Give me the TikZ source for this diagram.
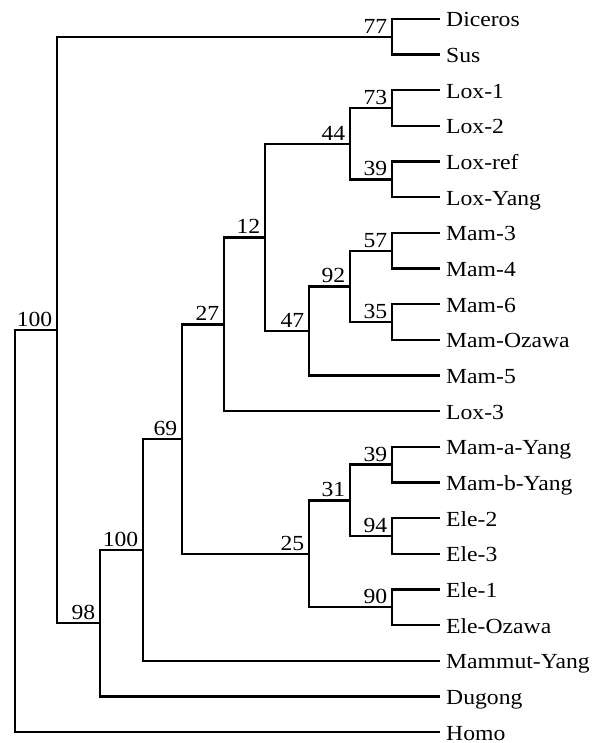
\documentclass[tikz,border=0pt]{standalone}
\usepackage{fontspec}
\setmainfont{Liberation Serif}[FakeStretch=1.1]
\begin{document}
\begin{tikzpicture}[x=1pt,y=-1pt,
  br/.style={line width=2.4pt, line join=miter, line cap=rect},
  leaf/.style={anchor=base west, inner sep=0pt, font=\fontsize{21.5}{21.5}\selectfont},
  sup/.style={anchor=base east, inner sep=0pt, font=\fontsize{21.5}{21.5}\selectfont}]
\useasboundingbox (0,0) rectangle (604,743);
% leaf tips
\def\tipx{439}
\def\lx{446}
\foreach \nm/\i/\txt in {dic/0/Diceros, sus/1/Sus, loxa/2/Lox-1, loxb/3/Lox-2, loxr/4/Lox-ref, loxy/5/Lox-Yang,
  mamc/6/Mam-3, mamd/7/Mam-4, mamf/8/Mam-6, mamo/9/Mam-Ozawa, mame/10/Mam-5, loxc/11/Lox-3,
  mamay/12/Mam-a-Yang, mamby/13/Mam-b-Yang, eleb/14/Ele-2, elec/15/Ele-3, elea/16/Ele-1, eleo/17/Ele-Ozawa,
  mmt/18/Mammut-Yang, dug/19/Dugong, hom/20/Homo}{
  \coordinate (t\nm) at (\tipx, {19+35.65*\i});
  \node[leaf] (l\nm) at (\lx, {19+35.65*\i+8}) {\txt};
}
% internal nodes
\coordinate (n77)  at (392, 36.8);
\coordinate (n73)  at (392, 108.1);
\coordinate (n39a) at (392, 179.4);
\coordinate (n44)  at (350, 143.8);
\coordinate (n57)  at (392, 250.7);
\coordinate (n35)  at (392, 322.0);
\coordinate (n92)  at (350, 286.4);
\coordinate (n47)  at (309, 330.9);
\coordinate (n12)  at (265, 237.4);
\coordinate (n27)  at (224, 324.3);
\coordinate (n39b) at (392, 464.6);
\coordinate (n94)  at (392, 535.9);
\coordinate (n31)  at (350, 500.3);
\coordinate (n90)  at (392, 607.2);
\coordinate (n25)  at (309, 553.7);
\coordinate (n69)  at (182, 439.0);
\coordinate (n100b) at (143, 549.9);
\coordinate (n98)  at (100, 623.1);
\coordinate (n100a) at (57, 330.0);
\coordinate (root) at (15, 531.0);
% branches
\draw[br] (n77) |- (tdic);   \draw[br] (n77) |- (tsus);
\draw[br] (n73) |- (tloxa);  \draw[br] (n73) |- (tloxb);
\draw[br] (n39a) |- (tloxr); \draw[br] (n39a) |- (tloxy);
\draw[br] (n44) |- (n73);    \draw[br] (n44) |- (n39a);
\draw[br] (n57) |- (tmamc);  \draw[br] (n57) |- (tmamd);
\draw[br] (n35) |- (tmamf);  \draw[br] (n35) |- (tmamo);
\draw[br] (n92) |- (n57);    \draw[br] (n92) |- (n35);
\draw[br] (n47) |- (n92);    \draw[br] (n47) |- (tmame);
\draw[br] (n12) |- (n44);    \draw[br] (n12) |- (n47);
\draw[br] (n27) |- (n12);    \draw[br] (n27) |- (tloxc);
\draw[br] (n39b) |- (tmamay); \draw[br] (n39b) |- (tmamby);
\draw[br] (n94) |- (teleb);  \draw[br] (n94) |- (telec);
\draw[br] (n31) |- (n39b);   \draw[br] (n31) |- (n94);
\draw[br] (n90) |- (telea);  \draw[br] (n90) |- (teleo);
\draw[br] (n25) |- (n31);    \draw[br] (n25) |- (n90);
\draw[br] (n69) |- (n27);    \draw[br] (n69) |- (n25);
\draw[br] (n100b) |- (n69);  \draw[br] (n100b) |- (tmmt);
\draw[br] (n98) |- (n100b);  \draw[br] (n98) |- (tdug);
\draw[br] (n100a) |- (n77);  \draw[br] (n100a) |- (n98);
\draw[br] (root) |- (n100a); \draw[br] (root) |- (thom);
% support values
\foreach \c/\v in {n77/77, n73/73, n39a/39, n44/44, n57/57, n35/35, n92/92, n47/47, n12/12, n27/27,
  n39b/39, n94/94, n31/31, n90/90, n25/25, n69/69, n100b/100, n98/98, n100a/100}{
  \node[sup] (s\c) at ([shift={(-4.5,-3.5)}]\c) {\v};
}
\end{tikzpicture}
\end{document}
